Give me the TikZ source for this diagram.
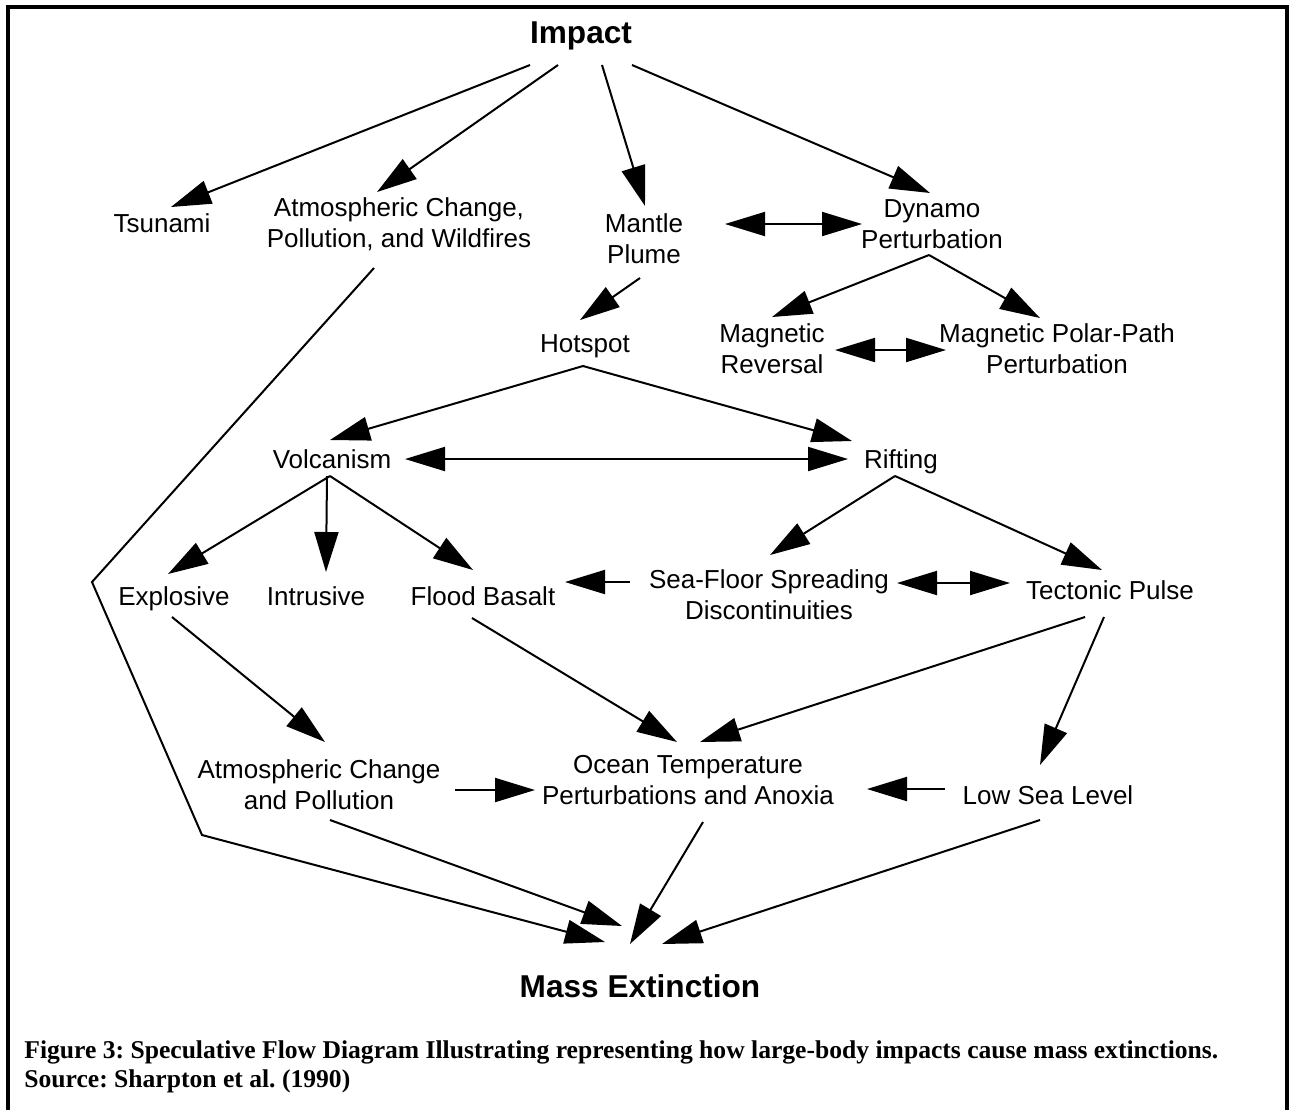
\documentclass[tikz,border=0pt]{standalone}
\usepackage{fontspec}
\setmainfont{Liberation Serif}
\newfontfamily\diagfont{Liberation Sans}
\usetikzlibrary{arrows.meta,calc}

\begin{document}
\frenchspacing
\begin{tikzpicture}[x=0.5pt,y=-0.5pt,
  lbl/.style={font=\diagfont\fontsize{13}{15.5}\selectfont, align=center, inner sep=0pt},
  one/.style={font=\diagfont\fontsize{13}{15.5}\selectfont, inner sep=0pt, text depth=0pt},
  ttl/.style={font=\diagfont\bfseries\fontsize{15.8}{18}\selectfont, inner sep=0pt, text depth=0pt},
  tip/.tip={Triangle[length=20pt,width=12pt]},
  arr/.style={line width=1pt, -tip},
  darr/.style={line width=1pt, tip-tip},
  link/.style={line width=1pt, line join=miter}
]
\useasboundingbox (0,0) rectangle (1289,1110);
\fill[white] (0,0) rectangle (1289,1110);
% frame around the figure
\draw[line width=2pt, line join=miter] (8,1110) -- (8,7) -- (1287,7) -- (1287,1110);

% nodes
\node[ttl] (imp)   at (581,33)  {Impact};
\node[one] (tsu)   at (162,223) {Tsunami};
\node[lbl] (atmA)  at (399,224) {Atmospheric Change,\\Pollution, and Wildfires};
\node[lbl] (mant)  at (644,239) {Mantle\\Plume};
\node[lbl] (dyn)   at (932,224) {Dynamo\\Perturbation};
\node[one] (hot)   at (585,344) {Hotspot};
\node[lbl] (mrev)  at (772,349) {Magnetic\\Reversal};
\node[lbl] (mpp)   at (1057,349) {Magnetic Polar-Path\\Perturbation};
\node[one] (volc)  at (332,459) {Volcanism};
\node[one] (rift)  at (901,459) {Rifting};
\node[one] (expl)  at (174,596) {Explosive};
\node[one] (intr)  at (316,596) {Intrusive};
\node[one] (flood) at (483,596) {Flood Basalt};
\node[lbl] (sea)   at (769,595) {Sea-Floor Spreading\\Discontinuities};
\node[one] (tect)  at (1110,590) {Tectonic Pulse};
\node[lbl] (atmB)  at (319,785) {Atmospheric Change\\and Pollution};
\node[lbl] (ocean) at (688,780) {Ocean Temperature\\Perturbations and Anoxia};
\node[one] (low)   at (1048,795) {Low Sea Level};
\node[ttl] (mass)  at (640,986) {Mass Extinction};

% bends of the long connector on the left
\coordinate (bendA) at (92,582);
\coordinate (bendB) at (202,835);

% connectors
\draw[arr] ($(imp)+(-51,32)$) -- ($(tsu)+(9,-16)$);
\draw[arr] ($(imp)+(-23,32)$) -- ($(atmA)+(-22,-32)$);
\draw[arr] ($(imp)+(21,32)$)  -- ($(mant)+(1,-33)$);
\draw[arr] ($(imp)+(51,32)$)  -- ($(dyn)+(-2,-31)$);
\draw[darr] ($(mant)+(81,-15)$) -- ($(dyn)+(-70,0)$);
\draw[arr] ($(mant)+(-4,39)$) -- ($(hot)+(-5,-24)$);
\draw[arr] ($(dyn)+(-3,31)$)  -- ($(mrev)+(0,-32)$);
\draw[arr] ($(dyn)+(-3,31)$)  -- ($(mpp)+(-17,-31)$);
\draw[darr] ($(mrev)+(63,1)$) -- ($(mpp)+(-111,1)$);
\draw[arr] ($(hot)+(-2,22)$)  -- ($(volc)+(-2,-19)$);
\draw[arr] ($(hot)+(-2,22)$)  -- ($(rift)+(-49,-18)$);
\draw[darr] ($(volc)+(73,0)$) -- ($(rift)+(-53,0)$);
\draw[arr] ($(volc)+(-2,17)$) -- ($(expl)+(-6,-22)$);
\draw[arr] ($(volc)+(-5,17)$) -- ($(intr)+(10,-24)$);
\draw[arr] ($(volc)+(-2,17)$) -- ($(flood)+(-10,-26)$);
\draw[arr] ($(rift)+(-6,17)$) -- ($(sea)+(1,-40)$);
\draw[arr] ($(rift)+(-6,17)$) -- ($(tect)+(-8,-20)$);
\draw[arr] ($(sea)+(-139,-13)$) -- ($(flood)+(82,-14)$);
\draw[darr] ($(sea)+(128,-12)$) -- ($(tect)+(-100,-7)$);
\draw[arr] ($(expl)+(-2,21)$) -- ($(atmB)+(6,-43)$);
\draw[arr] ($(flood)+(-11,22)$) -- ($(ocean)+(-11,-38)$);
\draw[arr] ($(tect)+(-25,27)$) -- ($(ocean)+(12,-38)$);
\draw[arr] ($(tect)+(-6,27)$) -- ($(low)+(-8,-30)$);
\draw[arr] ($(atmB)+(136,5)$) -- ($(ocean)+(-153,10)$);
\draw[arr] ($(low)+(-103,-6)$) -- ($(ocean)+(179,9)$);
\draw[arr] ($(ocean)+(15,42)$) -- ($(mass)+(-10,-42)$);
\draw[arr] ($(atmB)+(11,35)$) -- ($(mass)+(-18,-60)$);
\draw[arr, line join=miter] ($(atmA)+(-25,44)$) -- (bendA) -- (bendB) -- ($(mass)+(-35,-44)$);
\draw[arr] ($(low)+(-8,25)$) -- ($(mass)+(22,-42)$);

% caption
\node[anchor=west, align=left, inner sep=0pt,
      font=\bfseries\fontsize{12.8}{14.5}\selectfont] (cap) at (24,1067)
  {Figure 3: Speculative Flow Diagram Illustrating representing how large-body impacts cause mass extinctions.\\
   Source: Sharpton et al. (1990)};
\end{tikzpicture}
\end{document}
